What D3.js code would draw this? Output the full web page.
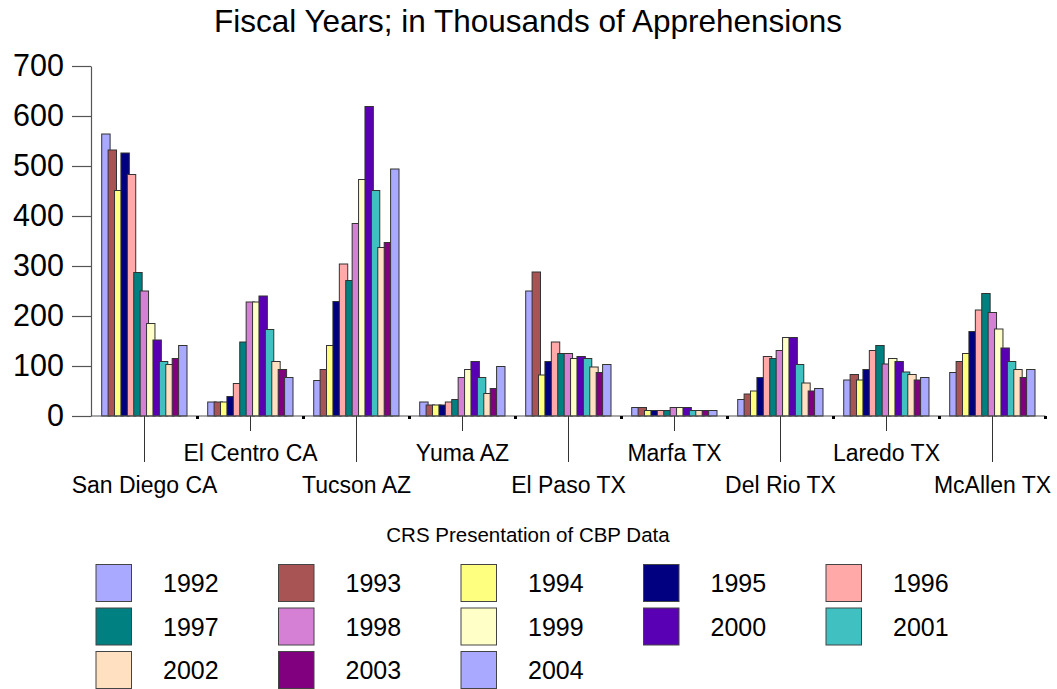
<!DOCTYPE html>
<html><head><meta charset="utf-8">
<script src="https://cdn.jsdelivr.net/npm/d3@7"></script>
<style>
html,body{margin:0;padding:0;background:#fff;}
svg{display:block;font-family:"Liberation Sans",Arial,sans-serif;}
</style></head>
<body>
<svg id="chart" width="1057" height="689"></svg>
<script>
const categories = ["San Diego CA","El Centro CA","Tucson AZ","Yuma AZ","El Paso TX","Marfa TX","Del Rio TX","Laredo TX","McAllen TX"];
const years = ["1992","1993","1994","1995","1996","1997","1998","1999","2000","2001","2002","2003","2004"];
const colors = ["#A9A9FF","#A95454","#FFFF7F","#000080","#FFA9A9","#008080","#D580D5","#FFFFC8","#5A00B4","#40C0C0","#FFE0C0","#800080","#A9A9FF"];
// values (thousands) per year, in category order
const v1992 = [564, 28, 71, 28, 250, 17, 33, 72, 87];
const v1993 = [532, 28, 93, 22, 288, 17, 44, 83, 109];
const v1994 = [451, 28, 141, 22, 82, 11, 50, 72, 125];
const v1995 = [526, 39, 229, 22, 109, 11, 77, 93, 169];
const v1996 = [483, 65, 304, 28, 148, 11, 119, 131, 212];
const v1997 = [287, 148, 271, 33, 125, 11, 115, 141, 245];
const v1998 = [250, 228, 385, 77, 125, 17, 131, 104, 207];
const v1999 = [185, 228, 473, 93, 115, 17, 157, 115, 174];
const v2000 = [152, 240, 619, 109, 119, 17, 157, 109, 136];
const v2001 = [109, 173, 451, 77, 115, 11, 103, 88, 109];
const v2002 = [103, 109, 337, 45, 98, 11, 66, 83, 93];
const v2003 = [115, 93, 347, 55, 87, 11, 50, 72, 77];
const v2004 = [141, 77, 494, 99, 103, 11, 55, 77, 93];
const series = [v1992,v1993,v1994,v1995,v1996,v1997,v1998,v1999,v2000,v2001,v2002,v2003,v2004];
const yTicks = [0,100,200,300,400,500,600,700];

const svg = d3.select("#chart");
const x0 = d3.scaleBand().domain(categories).range([91.5, 1045.5]).paddingInner(0).paddingOuter(0);
const barW = 8.4;
const x1 = d3.scalePoint().domain(years).range([10.2, x0.bandwidth() - 10.5 - barW]);
const y = d3.scaleLinear().domain([0, 700]).range([416, 66]);

// title
svg.append("text").attr("x", 528).attr("y", 32).attr("text-anchor","middle")
  .attr("font-size", 31.5).attr("fill","#000").text("Fiscal Years; in Thousands of Apprehensions");

// bars
const data = [];
categories.forEach((c, ci) => {
  years.forEach((yr, yi) => data.push({c, yr, yi, v: series[yi][ci]}));
});
svg.append("g").selectAll("rect").data(data.sort((a,b)=>a.yi-b.yi)).join("rect")
  .attr("x", d => x0(d.c) + x1(d.yr))
  .attr("y", d => y(d.v))
  .attr("width", barW)
  .attr("height", d => y(0) - y(d.v))
  .attr("fill", d => colors[d.yi])
  .attr("stroke", "#333").attr("stroke-width", 1);

// y axis
const yAxis = d3.axisLeft(y).tickValues(yTicks).tickSize(19).tickPadding(8).tickSizeOuter(0);
const gy = svg.append("g").attr("transform","translate(91,0)").call(yAxis);
gy.select(".domain").attr("stroke","#555").attr("stroke-width",1.2);
gy.selectAll(".tick line").attr("stroke","#555").attr("stroke-width",1.2);
gy.selectAll(".tick text").attr("font-size",30.5).attr("font-family","Liberation Sans, Arial, sans-serif").attr("fill","#000");

// x axis baseline
svg.append("line").attr("x1",91).attr("x2",1045.5).attr("y1",y(0)).attr("y2",y(0)).attr("stroke","#555").attr("stroke-width",1.2);
// category boundary tick marks
const bounds = categories.map(c => x0(c) + x0.bandwidth());
svg.append("g").selectAll("rect").data(bounds).join("rect")
  .attr("x", d => d - 1.5).attr("y", y(0)).attr("width",3).attr("height",3).attr("fill","#000");

// category labels with leader ticks
const gx = svg.append("g");
categories.forEach((c, i) => {
  const cx = x0(c) + x0.bandwidth()/2;
  const low = i % 2 === 0;
  gx.append("line").attr("x1",cx).attr("x2",cx).attr("y1",y(0)).attr("y2", low ? 462 : 431)
    .attr("stroke","#333").attr("stroke-width",1);
  gx.append("text").attr("x",cx).attr("y", low ? 493 : 461).attr("text-anchor","middle")
    .attr("font-size",23).attr("fill","#000").text(c);
});

// subtitle
svg.append("text").attr("x",528).attr("y",542).attr("text-anchor","middle")
  .attr("font-size",20.5).attr("fill","#000").text("CRS Presentation of CBP Data");

// legend
const lg = svg.append("g");
years.forEach((yr, i) => {
  const col = i % 5, row = Math.floor(i / 5);
  const lx = 96 + col * 182.5, ly = 564.5 + row * 43.5;
  lg.append("rect").attr("x", lx).attr("y", ly).attr("width", 35.5).attr("height", 37)
    .attr("fill", colors[i]).attr("stroke","#444").attr("stroke-width",1);
  lg.append("text").attr("x", lx + 67).attr("y", ly + 27.5).attr("font-size",25).attr("fill","#000").text(yr);
});
</script>
</body></html>
